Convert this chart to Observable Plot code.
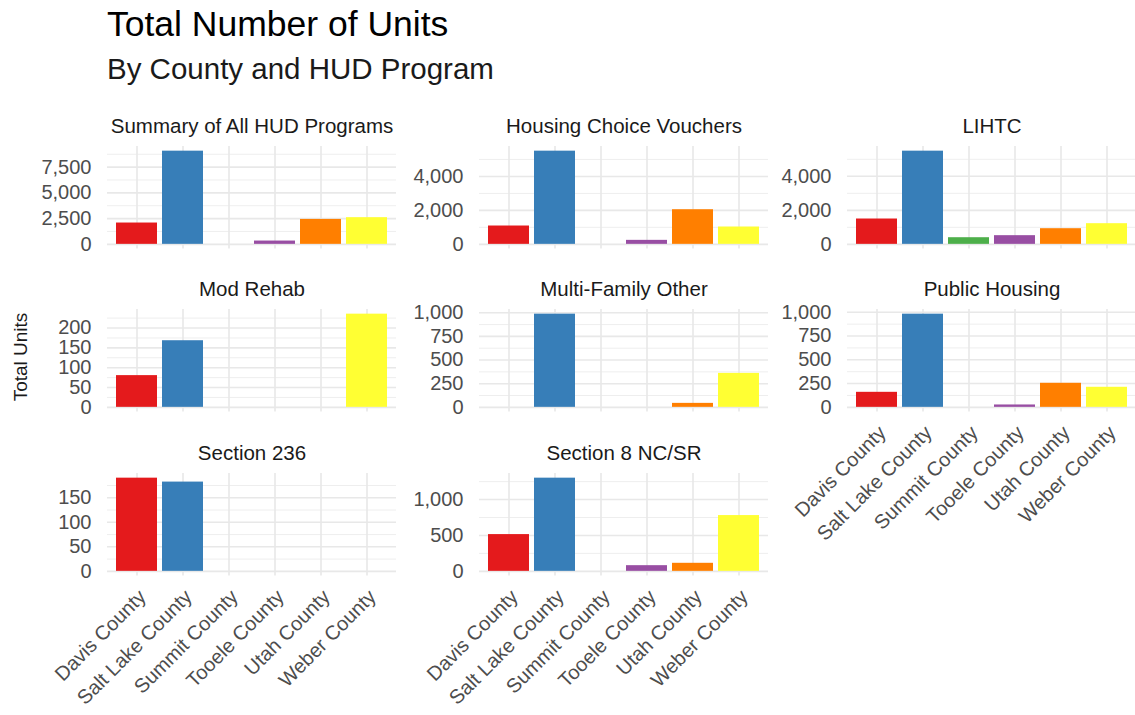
<!DOCTYPE html>
<html><head><meta charset="utf-8">
<script src="https://cdn.jsdelivr.net/npm/d3@7"></script>
<script src="https://cdn.jsdelivr.net/npm/@observablehq/plot@0.6"></script>
<style>
body{margin:0;background:#fff;font-family:"Liberation Sans",Arial,sans-serif;}
#chart{position:relative;width:1135px;height:715px;overflow:hidden;background:#fff;}
.abs{position:absolute;white-space:nowrap;line-height:1;}
#chart svg{position:absolute;overflow:visible;background:none;}
</style></head><body><div id="chart"></div>
<script>
// ---- data ----
const counties = ["Davis County","Salt Lake County","Summit County","Tooele County","Utah County","Weber County"];
const countyColors = ["#E41A1C","#377EB8","#4DAF4A","#984EA3","#FF7F00","#FFFF33"];
const programs = ["Summary of All HUD Programs","Housing Choice Vouchers","LIHTC","Mod Rehab","Multi-Family Other","Public Housing","Section 236","Section 8 NC/SR"];

const summaryUnits       = [2070, 9050, 0, 320, 2420, 2590];
const hcvUnits           = [1080, 5490, 0, 235, 2040, 1020];
const lihtcUnits         = [1490, 5480, 390, 510, 920, 1215];
const modRehabUnits      = [80, 168, 0, 0, 0, 235];
const multiFamilyUnits   = [0, 985, 0, 0, 42, 359];
const publicHousingUnits = [158, 980, 0, 25, 253, 211];
const section236Units    = [190, 182, 0, 0, 0, 0];
const section8Units      = [512, 1298, 0, 79, 112, 777];

const summaryTicks       = [0, 2500, 5000, 7500];
const hcvTicks           = [0, 2000, 4000];
const lihtcTicks         = [0, 2000, 4000];
const modRehabTicks      = [0, 50, 100, 150, 200];
const multiFamilyTicks   = [0, 250, 500, 750, 1000];
const publicHousingTicks = [0, 250, 500, 750, 1000];
const section236Ticks    = [0, 50, 100, 150];
const section8Ticks      = [0, 500, 1000];

const titleText = "Total Number of Units";
const subtitleText = "By County and HUD Program";
const yTitle = "Total Units";

// ---- layout ----
const values = [summaryUnits, hcvUnits, lihtcUnits, modRehabUnits, multiFamilyUnits, publicHousingUnits, section236Units, section8Units];
const ticks = [summaryTicks, hcvTicks, lihtcTicks, modRehabTicks, multiFamilyTicks, publicHousingTicks, section236Ticks, section8Ticks];
const colLeft = [107, 479, 847];
const rowTop = [146, 309.3, 473];
const panelW = 289, panelH = 102.5;
const mL = 100, mR = 4, mT = 40;
const fmt = d3.format(",");
const chart = document.getElementById("chart");

function addText(txt, left, top, size, color, extra) {
  const d = document.createElement("div");
  d.className = "abs";
  d.textContent = txt;
  d.style.left = left + "px";
  d.style.top = top + "px";
  d.style.fontSize = size + "px";
  d.style.color = color;
  if (extra) Object.assign(d.style, extra);
  chart.appendChild(d);
  return d;
}
addText(titleText, 107, 7, 35.5, "#000");
addText(subtitleText, 107, 53.5, 29.5, "#1a1a1a");
addText(yTitle, 20, 357, 19, "#1a1a1a", {transform: "translate(-50%,-50%) rotate(-90deg)"});

programs.forEach((prog, i) => {
  const col = i % 3, row = Math.floor(i / 3);
  const showX = i >= 5;
  const mB = showX ? 150 : 4;
  const vals = values[i];
  const max = d3.max(vals);
  const domain = [-0.05 * max, 1.05 * max];
  const major = ticks[i];
  const step = major[1] - major[0];
  const minor = major.map(t => t + step / 2).filter(t => t <= domain[1]);
  const data = counties.map((c, j) => ({county: c, units: vals[j]})).filter(d => d.units > 0);
  const marks = [
    Plot.gridY(minor, {stroke: "#ececec", strokeOpacity: 1, strokeWidth: 0.9}),
    Plot.gridY(major, {stroke: "#e8e8e8", strokeOpacity: 1, strokeWidth: 1.6}),
    Plot.gridX({stroke: "#e8e8e8", strokeOpacity: 1, strokeWidth: 1.6}),
    Plot.barY(data, {x: "county", y: "units", fill: "county"}),
    Plot.axisY(major, {tickSize: 0, tickPadding: 16, tickFormat: fmt, label: null, fontSize: 20, color: "#4d4d4d"}),
    Plot.text([prog], {frameAnchor: "top", dy: -14, lineAnchor: "bottom", fontSize: 20.5, fill: "#1a1a1a"})
  ];
  if (showX) marks.push(Plot.axisX({tickRotate: -45, tickSize: 0, tickPadding: 12, textAnchor: "end", lineAnchor: "top", label: null, fontSize: 20, color: "#4d4d4d"}));
  const p = Plot.plot({
    width: mL + panelW + mR,
    height: mT + panelH + mB,
    marginLeft: mL, marginRight: mR, marginTop: mT, marginBottom: mB,
    style: {fontFamily: "Liberation Sans, Arial, sans-serif", fontSize: "20px", color: "#4d4d4d", background: "none", overflow: "visible"},
    x: {type: "band", domain: counties, paddingInner: 0.1, paddingOuter: 0.15, axis: null},
    y: {domain, axis: null},
    color: {domain: counties, range: countyColors},
    marks
  });
  p.style.left = (colLeft[col] - mL) + "px";
  p.style.top = (rowTop[row] - mT) + "px";
  chart.appendChild(p);
});
</script></body></html>
